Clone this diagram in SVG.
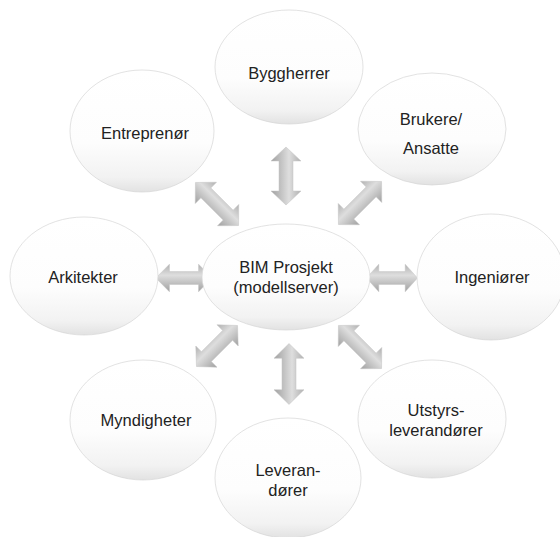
<svg xmlns="http://www.w3.org/2000/svg" xmlns:xlink="http://www.w3.org/1999/xlink" width="560" height="537" viewBox="0 0 560 537">
  <defs>
    <linearGradient id="gFill" x1="0" y1="0" x2="0" y2="1">
      <stop offset="0" stop-color="#ffffff"/>
      <stop offset="0.6" stop-color="#fdfdfd"/>
      <stop offset="0.88" stop-color="#f2f2f2"/>
      <stop offset="1" stop-color="#e2e2e2"/>
    </linearGradient>
    <linearGradient id="gArr" x1="0" y1="0" x2="0" y2="1">
      <stop offset="0" stop-color="#b0b0b0"/>
      <stop offset="0.4" stop-color="#dedede"/>
      <stop offset="1" stop-color="#a0a0a0"/>
    </linearGradient>
    <path id="arr" d="M-29,0 L-15,-15 L-15,-7 L15,-7 L15,-15 L29,0 L15,15 L15,7 L-15,7 L-15,15 Z"/>
  </defs>
  <style>
    .node ellipse { fill: url(#gFill); stroke: #d6d6d6; stroke-width: 0.7; }
    .node text { font-family: "Liberation Sans", Arial, sans-serif; font-size: 16.5px; fill: #222222; text-anchor: middle; }
    .conn use { fill: url(#gArr); stroke: #c4c4c4; stroke-width: 0.5; }
  </style>
  <rect width="560" height="537" fill="#ffffff"/>

  <g id="connectors" class="conn">
    <use xlink:href="#arr" href="#arr" transform="translate(286,176) rotate(90)"/>
    <use xlink:href="#arr" href="#arr" transform="translate(289,374) rotate(90) scale(1.05,1)"/>
    <use xlink:href="#arr" href="#arr" transform="translate(184,278) scale(0.97,0.92)"/>
    <use xlink:href="#arr" href="#arr" transform="translate(392,278) scale(0.88,0.92)"/>
    <use xlink:href="#arr" href="#arr" transform="translate(217,204) rotate(45) scale(1.05,1)"/>
    <use xlink:href="#arr" href="#arr" transform="translate(360,203) rotate(-45) scale(1.05,1)"/>
    <use xlink:href="#arr" href="#arr" transform="translate(217,346) rotate(-45) scale(1.0,1)"/>
    <use xlink:href="#arr" href="#arr" transform="translate(360,347) rotate(45) scale(1.05,1)"/>
  </g>

  <g id="byggherrer" class="node">
    <ellipse cx="289" cy="67" rx="74" ry="57"/>
    <text x="289" y="79">Byggherrer</text>
  </g>
  <g id="entreprenor" class="node">
    <ellipse cx="142" cy="131" rx="72" ry="61"/>
    <text x="145" y="139">Entreprenør</text>
  </g>
  <g id="brukere" class="node">
    <ellipse cx="432" cy="129" rx="74" ry="56"/>
    <text x="431" y="125">Brukere/</text>
    <text x="431" y="154">Ansatte</text>
  </g>
  <g id="arkitekter" class="node">
    <ellipse cx="84" cy="276" rx="74" ry="59"/>
    <text x="83" y="283">Arkitekter</text>
  </g>
  <g id="bim" class="node">
    <ellipse cx="286" cy="277" rx="84" ry="53"/>
    <text x="286" y="273">BIM Prosjekt</text>
    <text x="286" y="293">(modellserver)</text>
  </g>
  <g id="ingeniorer" class="node">
    <ellipse cx="491" cy="277" rx="74" ry="63"/>
    <text x="492" y="283">Ingeniører</text>
  </g>
  <g id="utstyrs" class="node">
    <ellipse cx="432" cy="419" rx="74" ry="59"/>
    <text x="436" y="416">Utstyrs-</text>
    <text x="436" y="436">leverandører</text>
  </g>
  <g id="leverandorer" class="node">
    <ellipse cx="288" cy="478" rx="73" ry="60"/>
    <text x="288" y="476">Leveran-</text>
    <text x="288" y="496">dører</text>
  </g>
  <g id="myndigheter" class="node">
    <ellipse cx="143" cy="420" rx="73" ry="60"/>
    <text x="146" y="426">Myndigheter</text>
  </g>
</svg>
